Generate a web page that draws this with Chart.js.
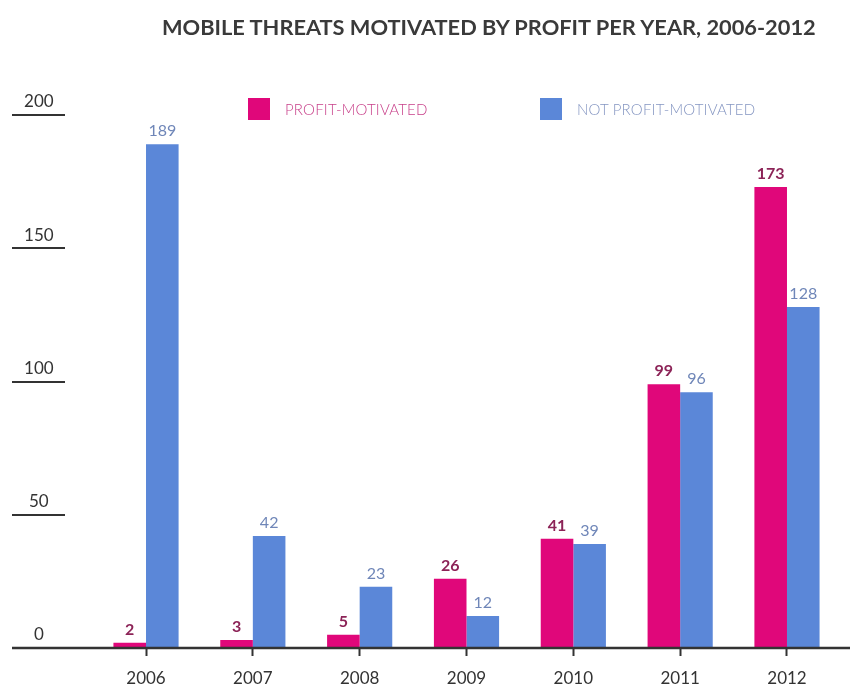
<!DOCTYPE html>
<html>
<head>
<meta charset="utf-8">
<title>Mobile threats motivated by profit</title>
<script src="https://cdn.jsdelivr.net/npm/chart.js@4/dist/chart.umd.min.js"></script>
<style>
  html, body { margin: 0; padding: 0; background: #fff; }
  .wrap { position: relative; width: 854px; height: 686px; font-family: "Lato", sans-serif; }
  .title {
    position: absolute; left: 162px; top: 13px;
    font-size: 21.8px; font-weight: 700; color: #3a3a3a; white-space: nowrap;
  }
  .legend-item { position: absolute; top: 98px; height: 22px; display: flex; align-items: center; }
  .legend-item .swatch { width: 22px; height: 22px; margin-right: 15px; }
  .legend-item span { font-size: 15px; font-weight: 300; letter-spacing: 0.2px; }
  canvas { position: absolute; left: 0; top: 0; }
</style>
</head>
<body>
<div class="wrap">
  <canvas id="chart" width="854" height="686"></canvas>
  <div class="title">MOBILE THREATS MOTIVATED BY PROFIT PER YEAR, 2006-2012</div>
  <div class="legend-item" style="left:248px">
    <div class="swatch" style="background:#e0077a"></div><span style="color:#c8408a">PROFIT-MOTIVATED</span>
  </div>
  <div class="legend-item" style="left:540px">
    <div class="swatch" style="background:#5b87d8"></div><span style="color:#8596c2">NOT PROFIT-MOTIVATED</span>
  </div>
</div>
<script>
"use strict";

const years = ["2006", "2007", "2008", "2009", "2010", "2011", "2012"];
const profitMotivated = [2, 3, 5, 26, 41, 99, 173];
const notProfitMotivated = [189, 42, 23, 12, 39, 96, 128];
const yTicks = [0, 50, 100, 150, 200];

const INK = "#333333";

Chart.defaults.font.family = "Lato, sans-serif";
Chart.defaults.font.size = 17;
Chart.defaults.color = INK;

// value labels above each bar
const barValues = {
  id: "barValues",
  afterDatasetsDraw(chart) {
    const ctx = chart.ctx;
    ctx.save();
    ctx.textAlign = "center";
    ctx.textBaseline = "middle";
    chart.data.datasets.forEach((ds, i) => {
      const meta = chart.getDatasetMeta(i);
      ctx.fillStyle = ds.labelColor;
      ctx.font = `${ds.labelWeight} 16px Lato, sans-serif`;
      meta.data.forEach((bar, j) => {
        ctx.fillText(String(ds.data[j]), bar.x, bar.y - 13);
      });
    });
    ctx.restore();
  },
};

// short rules under the y labels and the long baseline
const axisRules = {
  id: "axisRules",
  afterDraw(chart) {
    const ctx = chart.ctx;
    const y = chart.scales.y;
    ctx.save();
    ctx.strokeStyle = INK;
    ctx.lineWidth = 2;
    y.ticks.forEach((t) => {
      if (t.value === 0) return;
      const py = Math.round(y.getPixelForValue(t.value));
      ctx.beginPath();
      ctx.moveTo(12, py);
      ctx.lineTo(65, py);
      ctx.stroke();
    });
    const base = Math.round(y.getPixelForValue(0));
    ctx.lineWidth = 2.5;
    ctx.beginPath();
    ctx.moveTo(12, base);
    ctx.lineTo(850, base);
    ctx.stroke();
    ctx.restore();
  },
};

new Chart(document.getElementById("chart"), {
  type: "bar",
  data: {
    labels: years,
    datasets: [
      { label: "PROFIT-MOTIVATED", data: profitMotivated, backgroundColor: "#e0077a",
        labelColor: "#8c2357", labelWeight: "bold" },
      { label: "NOT PROFIT-MOTIVATED", data: notProfitMotivated, backgroundColor: "#5b87d8",
        labelColor: "#6f86b8", labelWeight: "normal" },
    ],
  },
  options: {
    responsive: false,
    animation: false,
    layout: { padding: { top: 115, right: 13.6, left: 0, bottom: 0 } },
    datasets: { bar: { barPercentage: 1, categoryPercentage: 0.61 } },
    plugins: { legend: { display: false }, tooltip: { enabled: false } },
    scales: {
      x: {
        border: { display: false },
        grid: { offset: false, drawOnChartArea: false, drawTicks: true, tickLength: 8, tickWidth: 2, tickColor: INK },
        ticks: { padding: 12, color: INK },
        afterFit(scale) { scale.height = 38; },
      },
      y: {
        min: 0,
        max: 200,
        border: { display: false },
        grid: { display: false },
        afterBuildTicks(scale) { scale.ticks = yTicks.map((v) => ({ value: v })); },
        afterFit(scale) {
          scale.width = 92.6;
          // labels sit above their rules, so no extra room is needed at the ends
          scale.paddingTop = 0;
          scale.paddingBottom = 0;
        },
        ticks: { crossAlign: "center", padding: 31, labelOffset: -13, color: INK },
      },
    },
  },
  plugins: [barValues, axisRules],
});
</script>
</body>
</html>
